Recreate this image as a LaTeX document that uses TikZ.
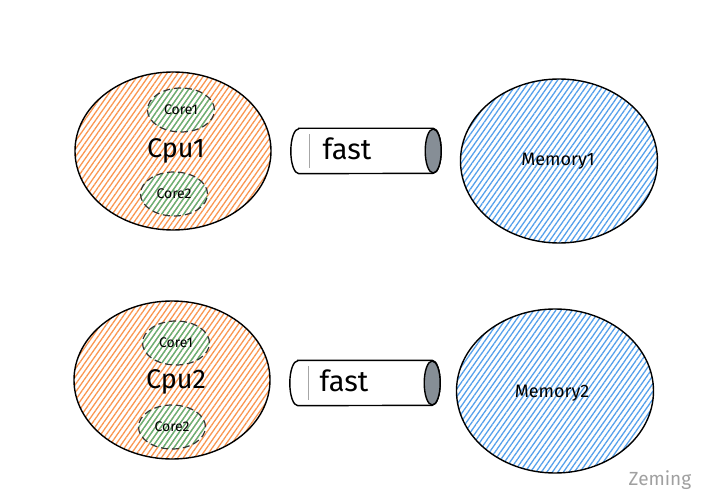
\documentclass[tikz,border=0pt]{standalone}
\usepackage{fontspec}
\setmainfont{Fira Sans}
\usetikzlibrary{shapes.geometric,patterns.meta}
\definecolor{orangeH}{RGB}{250,150,80}
\definecolor{blueH}{RGB}{85,160,235}
\definecolor{greenH}{RGB}{95,180,125}
\definecolor{endgray}{RGB}{134,142,150}
\definecolor{signgray}{RGB}{160,160,160}
\tikzset{
  cpu/.style={ellipse, draw=black, line width=1.4pt, minimum width=196pt, minimum height=158pt,
    pattern={Lines[angle=55,distance=4.5pt,line width=1.3pt]}, pattern color=orangeH, inner sep=0pt},
  mem/.style={ellipse, draw=black, line width=1.4pt, minimum width=197pt, minimum height=164pt,
    pattern={Lines[angle=55,distance=4.5pt,line width=1.3pt]}, pattern color=blueH, inner sep=0pt},
  core/.style={ellipse, draw=black!80, dashed, dash pattern=on 7pt off 4pt, line width=1.2pt,
    minimum width=67pt, minimum height=44pt, inner sep=0pt,
    pattern={Lines[angle=55,distance=4.5pt,line width=1.3pt]}, pattern color=greenH},
  pipe/.style={rectangle, minimum width=150pt, minimum height=45pt, inner sep=0pt},
  bigtxt/.style={font=\fontsize{27}{27}\selectfont},
  coretxt/.style={font=\fontsize{14}{14}\selectfont},
  memtxt/.style={font=\fontsize{18}{18}\selectfont},
  fasttxt/.style={font=\fontsize{29}{29}\selectfont}
}
\newcommand{\drawpipe}[1]{%
  \draw[line width=1.4pt, fill=white]
    ([xshift=8pt]#1.north west) -- ([xshift=-8pt]#1.north east)
    arc[start angle=90, end angle=-90, x radius=8pt, y radius=22.5pt]
    -- ([xshift=8pt]#1.south west)
    arc[start angle=270, end angle=90, x radius=8pt, y radius=22.5pt] -- cycle;
  \draw[line width=1.4pt, fill=endgray] ([xshift=-8pt]#1.east) ellipse[x radius=8pt, y radius=22pt];
  \draw[black!35, line width=0.6pt] ([xshift=18pt,yshift=-6pt]#1.north west) -- ([xshift=18pt,yshift=6pt]#1.south west);
}
\begin{document}
\begin{tikzpicture}[x=1pt,y=-1pt]
\useasboundingbox (0,0) rectangle (705,500);
% row 1
\node[cpu] (cpu1) at (173,151) {};
\node[core] (c11) at (181,110) {};
\node[core] (c12) at (174,194) {};
\node[bigtxt] (t1) at (176,151) {Cpu1};
\node[coretxt] (t11) at (181,110) {Core1};
\node[coretxt] (t12) at (174,194) {Core2};
\node[mem] (mem1) at (559,161) {};
\node[memtxt] (tm1) at (558,161) {Memory1};
\node[pipe] (p1) at (366,151) {};
\drawpipe{p1}
\node[fasttxt] (f1) at (347,149) {fast};
% row 2
\node[cpu] (cpu2) at (172,380) {};
\node[core] (c21) at (176,343) {};
\node[core] (c22) at (172,427) {};
\node[bigtxt] (t2) at (176,382) {Cpu2};
\node[coretxt] (t21) at (176,343) {Core1};
\node[coretxt] (t22) at (172,427) {Core2};
\node[mem] (mem2) at (555,391) {};
\node[memtxt] (tm2) at (552,393) {Memory2};
\node[pipe] (p2) at (365,383) {};
\drawpipe{p2}
\node[fasttxt] (f2) at (344,381) {fast};
% signature
\node[text=signgray, font=\fontsize{19}{19}\selectfont] (sig) at (660,480) {Zeming};
\end{tikzpicture}
\end{document}
